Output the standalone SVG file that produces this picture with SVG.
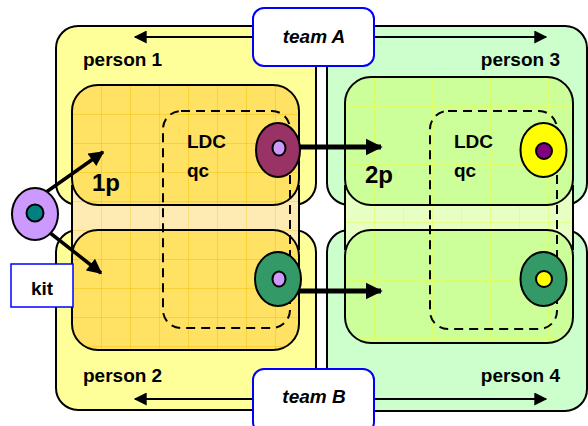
<svg xmlns="http://www.w3.org/2000/svg" width="588" height="426" viewBox="0 0 588 426">
<style>
text{font-family:"Liberation Sans",Arial,sans-serif;font-weight:bold;fill:#000}
.big{stroke:#000;stroke-width:2}
.inner{stroke:#000;stroke-width:2}
.dash{fill:none;stroke:#000;stroke-width:2;stroke-dasharray:9,6}
.lbl{font-size:19px}
.team{fill:#fff;stroke:#0000ff;stroke-width:2}
.tt{font-size:19px;font-style:italic}
.ring{stroke:#000;stroke-width:2}
.thin{stroke:#000;stroke-width:2;fill:none}
.kitar{stroke:#000;stroke-width:3.5;fill:none}
.thick{stroke:#000;stroke-width:5;fill:none}
</style>
<defs>
<pattern id="py" width="29" height="29" patternUnits="userSpaceOnUse" x="72" y="85"><rect width="29" height="29" fill="#ffe163"/><path d="M0 0.5H29M0.5 0V29" stroke="#f0c000" stroke-opacity="0.45"/></pattern>
<pattern id="pyb" width="29" height="29" patternUnits="userSpaceOnUse" x="72" y="85"><rect width="29" height="29" fill="#fdebb3"/><path d="M0 0.5H29M0.5 0V29" stroke="#f0c000" stroke-opacity="0.35"/></pattern>
<pattern id="pg" width="29" height="29" patternUnits="userSpaceOnUse" x="345" y="77"><rect width="29" height="29" fill="#ccff99"/><path d="M0 0.5H29M0.5 0V29" stroke="#e4ff50" stroke-opacity="0.6"/></pattern>
<pattern id="pgb" width="29" height="29" patternUnits="userSpaceOnUse" x="345" y="77"><rect width="29" height="29" fill="#e8ffc4"/><path d="M0 0.5H29M0.5 0V29" stroke="#e4ff50" stroke-opacity="0.5"/></pattern>
<marker id="ah" viewBox="0 0 10 10" refX="9" refY="5" markerWidth="16" markerHeight="13" markerUnits="userSpaceOnUse" orient="auto"><path d="M0 0L10 5L0 10Z" fill="#000"/></marker>
<marker id="aht" viewBox="0 0 10 10" refX="9" refY="5" markerWidth="17" markerHeight="18" markerUnits="userSpaceOnUse" orient="auto"><path d="M0 0L10 5L0 10Z" fill="#000"/></marker>
<marker id="ahk" viewBox="0 0 10 10" refX="9" refY="5" markerWidth="16" markerHeight="15" markerUnits="userSpaceOnUse" orient="auto"><path d="M0 0L10 5L0 10Z" fill="#000"/></marker>
</defs>

<g id="person1"><rect class="big" x="56" y="26" width="260" height="179" rx="22" fill="#ffff99"/><text class="lbl" x="83" y="66">person 1</text></g>
<g id="person2"><rect class="big" x="56" y="230" width="260" height="180" rx="22" fill="#ffff99"/><text class="lbl" x="83" y="382">person 2</text></g>
<g id="person3"><rect class="big" x="327" y="26" width="260" height="179" rx="22" fill="#ccffcc"/><text class="lbl" x="560" y="66" text-anchor="end">person 3</text></g>
<g id="person4"><rect class="big" x="327" y="230" width="260" height="181" rx="22" fill="#ccffcc"/><text class="lbl" x="560" y="382" text-anchor="end">person 4</text></g>

<g id="lab-left">
<rect x="72" y="185" width="227" height="65" fill="url(#pyb)"/>
<path d="M72 185V250M299 185V250" stroke="#000" stroke-width="2"/>
<rect class="inner" x="72" y="85" width="227" height="120" rx="26" fill="url(#py)"/>
<rect class="inner" x="72" y="230" width="227" height="120" rx="26" fill="url(#py)"/>
<text x="92" y="191" font-size="24px">1p</text>
</g>
<g id="lab-right">
<rect x="345" y="185" width="228" height="65" fill="url(#pgb)"/>
<path d="M345 185V250M573 185V250" stroke="#000" stroke-width="2"/>
<rect class="inner" x="345" y="77" width="228" height="128" rx="26" fill="url(#pg)"/>
<rect class="inner" x="345" y="230" width="228" height="113" rx="26" fill="url(#pg)"/>
<text x="365" y="183" font-size="24px">2p</text>
</g>

<g id="ldc-left"><rect class="dash" x="163" y="111" width="127" height="217" rx="18"/><text class="lbl" x="187" y="148">LDC</text><text class="lbl" x="187" y="177">qc</text></g>
<g id="ldc-right"><rect class="dash" x="430" y="111" width="127" height="218" rx="18"/><text class="lbl" x="454" y="148">LDC</text><text class="lbl" x="454" y="177">qc</text></g>

<g id="connectors">
<line class="thin" x1="253" y1="37" x2="135" y2="37" marker-end="url(#ah)"/>
<line class="thin" x1="374" y1="37" x2="546" y2="37" marker-end="url(#ah)"/>
<line class="thin" x1="253" y1="399" x2="135" y2="399" marker-end="url(#ah)"/>
<line class="thin" x1="374" y1="399" x2="546" y2="399" marker-end="url(#ah)"/>
<line class="kitar" x1="35" y1="200" x2="103" y2="152" marker-end="url(#ahk)"/>
<line class="kitar" x1="40" y1="225" x2="101" y2="273" marker-end="url(#ahk)"/>
<line class="thick" x1="285" y1="147" x2="381" y2="147" marker-end="url(#aht)"/>
<line class="thick" x1="285" y1="291" x2="381" y2="291" marker-end="url(#aht)"/>
</g>

<g id="teamA"><rect class="team" x="253" y="8" width="121" height="58" rx="11"/><text class="tt" x="314" y="43" text-anchor="middle">team A</text></g>
<g id="teamB"><rect class="team" x="253" y="369" width="121" height="64" rx="11"/><text class="tt" x="314" y="403" text-anchor="middle">team B</text></g>

<g id="kit-label"><rect x="11" y="264" width="62" height="43" fill="#fff" stroke="#0000ff" stroke-width="1.5"/><text class="lbl" x="42" y="295" text-anchor="middle">kit</text></g>

<g id="kit"><ellipse class="ring" cx="35" cy="214" rx="23" ry="26" fill="#cc99ff"/><circle class="ring" cx="35" cy="213" r="8.5" fill="#008080"/></g>
<g id="donut-ul"><ellipse class="ring" cx="278" cy="150" rx="22" ry="27" fill="#993366"/><ellipse class="ring" cx="279" cy="148" rx="6.5" ry="7.5" fill="#cc99ff"/></g>
<g id="donut-ll"><ellipse class="ring" cx="278" cy="279" rx="23" ry="27" fill="#339966"/><ellipse class="ring" cx="279" cy="279" rx="6.5" ry="7.5" fill="#cc99ff"/></g>
<g id="donut-ur"><ellipse class="ring" cx="543.5" cy="150" rx="23" ry="27" fill="#ffff00"/><circle class="ring" cx="544" cy="151" r="8" fill="#800080"/></g>
<g id="donut-lr"><ellipse class="ring" cx="543.5" cy="279" rx="23" ry="27" fill="#339966"/><circle class="ring" cx="544" cy="279" r="8" fill="#ffff00"/></g>
</svg>
